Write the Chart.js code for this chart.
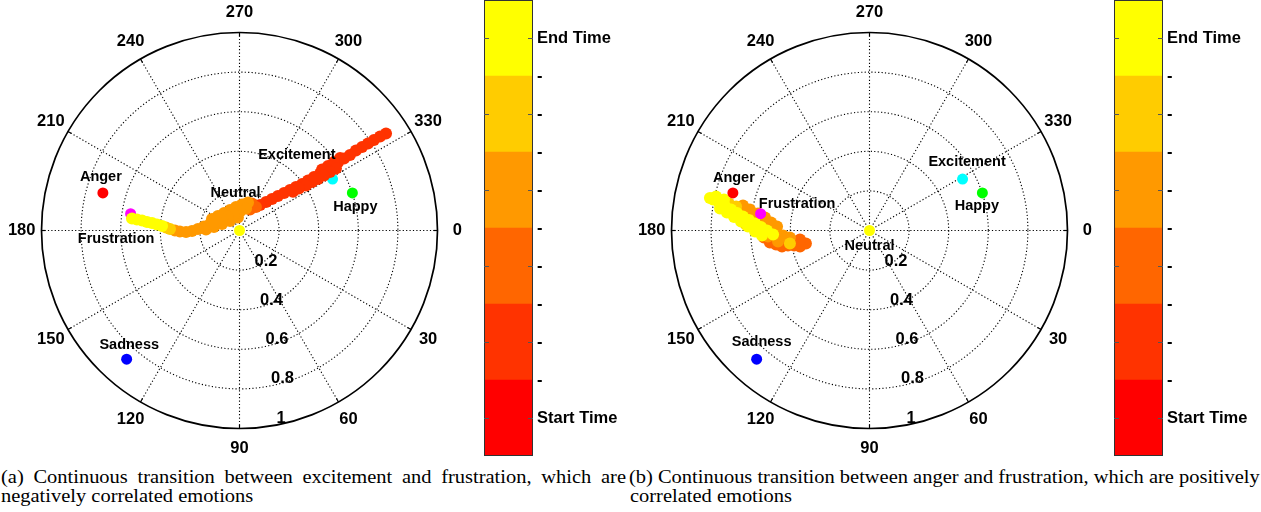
<!DOCTYPE html>
<html><head><meta charset="utf-8">
<script src="https://cdn.jsdelivr.net/npm/chart.js@4.4.0/dist/chart.umd.min.js"></script>
<style>
html,body{margin:0;padding:0;background:#fff;}
body{width:1261px;height:512px;position:relative;overflow:hidden;}
canvas{position:absolute;top:0;}
.cap{position:absolute;display:inline-block;font-family:"Liberation Serif","Times New Roman",serif;font-size:19px;line-height:19px;white-space:nowrap;color:#000;transform-origin:0 0;}
</style></head><body>
<canvas id="polarA" style="left:0px" width="480" height="460"></canvas>
<canvas id="barA" style="left:470px" width="160" height="460"></canvas>
<canvas id="polarB" style="left:630px" width="480" height="460"></canvas>
<canvas id="barB" style="left:1100px" width="160" height="460"></canvas>
<div id="capA1" class="cap" style="left:1px;top:467px">(a) Continuous transition between excitement and frustration, which are</div>
<div id="capA2" class="cap" style="left:1px;top:486px">negatively correlated emotions</div>
<div id="capB1" class="cap" style="left:629px;top:467px">(b) Continuous transition between anger and frustration, which are positively</div>
<div id="capB2" class="cap" style="left:630px;top:486px">correlated emotions</div>
<script>
// ---------------- data ----------------
const angleTicks = [0, 30, 60, 90, 120, 150, 180, 210, 240, 270, 300, 330];
const radiusTicks = [0.2, 0.4, 0.6, 0.8, 1];
const emotionNames = ['Anger', 'Frustration', 'Neutral', 'Excitement', 'Happy', 'Sadness'];
const emotionValence = [-0.69, -0.55, 0.00, 0.47, 0.57, -0.57];
const emotionArousal = [0.19, 0.085, 0.00, 0.26, 0.19, -0.65];
const colorbarBands = [1, 1, 1, 1, 1, 1];
const colorbarTicks = [0.5, 1, 1.5, 2, 2.5, 3, 3.5, 4, 4.5, 5, 5.5];
const colorbarLabels = ['Start Time', '-', '-', '-', '-', '-', '-', '-', '-', '-', 'End Time'];

// (a) excitement -> frustration trajectory (time band 0 = start ... 5 = end)
const trajA_valence = [0.740,0.710,0.679,0.649,0.619,0.588,0.558,0.528,0.497,0.467,0.437,0.407,0.376,0.346,0.316,0.285,0.255,0.225,0.194,0.164,0.134,0.104,
  0.508,0.477,0.447,0.417,0.487,0.457,0.427,0.396,0.366,0.336,0.300,0.270,
  0.083,0.063,0.053,
  0.043,0.013,-0.018,-0.048,-0.078,-0.109,-0.139,
  -0.008,-0.048,-0.088,-0.129,-0.169,
  0.033,0.003,-0.028,-0.058,-0.088,-0.119,-0.149,-0.179,-0.210,-0.240,-0.270,-0.301,-0.326,
  -0.351,-0.371,
  -0.391,-0.417,-0.442,-0.467,-0.492,-0.518,-0.543];
const trajA_arousal = [0.490,0.475,0.457,0.439,0.422,0.404,0.381,0.364,0.343,0.323,0.303,0.288,0.270,0.253,0.235,0.220,0.205,0.189,0.174,0.159,0.144,0.129,
  0.366,0.346,0.326,0.308,0.313,0.295,0.278,0.260,0.245,0.227,0.212,0.196,
  0.119,0.136,0.106,
  0.141,0.131,0.119,0.104,0.088,0.073,0.058,
  0.066,0.048,0.033,0.018,0.005,
  0.111,0.096,0.083,0.071,0.058,0.045,0.033,0.020,0.008,-0.003,-0.008,-0.005,0.000,
  0.008,0.015,
  0.023,0.030,0.038,0.043,0.051,0.056,0.061];
const trajA_band = [1,1,1,1,1,1,1,1,1,1,1,1,1,1,1,1,1,1,1,1,1,1,
  1,1,1,1,1,1,1,1,1,1,1,1,
  2,2,2,
  3,3,3,3,3,3,3,
  3,3,3,3,3,
  3,3,3,3,3,3,3,3,3,3,3,3,3,
  4,4,
  5,5,5,5,5,5,5];

// (b) anger <-> frustration trajectory
const trajB_valence = [-0.321,-0.351,-0.381,-0.412,-0.442,-0.351,-0.472,-0.503,-0.533,
  -0.402,-0.437,-0.467,-0.497,-0.528,-0.563,-0.604,-0.639,-0.462,-0.513,
  -0.674,-0.710,-0.573,-0.624,-0.402,
  -0.755,-0.720,-0.684,-0.649,-0.614,-0.578,-0.543,
  -0.775,-0.735,
  -0.806,-0.790,-0.760,-0.730,-0.699,-0.669,-0.639,-0.609,-0.578,-0.548,-0.518,-0.487];
const trajB_arousal = [-0.066,-0.081,-0.076,-0.076,-0.081,-0.045,-0.071,-0.061,-0.035,
  -0.035,-0.025,0.020,0.040,0.066,0.086,0.106,0.126,-0.056,-0.030,
  0.121,0.136,0.005,0.030,-0.066,
  0.111,0.091,0.068,0.045,0.020,-0.005,-0.025,
  0.172,0.157,
  0.164,0.157,0.141,0.124,0.106,0.088,0.071,0.053,0.035,0.018,0.000,-0.020];
const trajB_band = [2,2,2,2,2,2,2,2,2,
  3,3,3,3,3,3,3,3,3,3,
  4,4,4,4,4,
  5,5,5,5,5,5,5,
  5,5,
  5,5,5,5,5,5,5,5,5,5,5,5];

// ---------------- styles ----------------
const bandColors = ['#FF0000', '#FF3300', '#FF6600', '#FF9900', '#FFCC00', '#FFFF00'];
const emotionColors = ['#FF0000', '#FF00FF', '#FFFF00', '#00FFFF', '#00FF00', '#0000FF'];
const labelOffsetsA = [[-2,-12],[-14.5,29],[-4,-33.5],[-35.7,-20.5],[3,18.5],[2.6,-10]];
const labelOffsetsB = [[1,-10.7],[36.5,-6],[0,19.5],[4.5,-12.7],[-5.5,17],[5,-13]];
const FONT = '"Liberation Sans", Arial, sans-serif';

function polarPoint(thetaDeg, r) { // theta measured clockwise on screen from the right
  const t = thetaDeg * Math.PI / 180;
  return {x: r * Math.cos(t), y: -r * Math.sin(t)};
}

const polarFrame = {
  id: 'polarFrame',
  beforeDatasetsDraw(chart) {
    const ctx = chart.ctx, xs = chart.scales.x, ys = chart.scales.y;
    const P = (th, r) => { const p = polarPoint(th, r); return [xs.getPixelForValue(p.x), ys.getPixelForValue(p.y)]; };
    const rMax = radiusTicks[radiusTicks.length - 1];
    const cx = xs.getPixelForValue(0), cy = ys.getPixelForValue(0);
    const R = xs.getPixelForValue(1) - cx, Ry = cy - ys.getPixelForValue(1);
    ctx.save();
    ctx.lineWidth = 1.1; ctx.strokeStyle = '#000'; ctx.setLineDash([1.2, 2.2]);
    radiusTicks.slice(0, -1).forEach(r => {
      ctx.beginPath(); ctx.ellipse(cx, cy, R * r, Ry * r, 0, 0, 2 * Math.PI); ctx.stroke();
    });
    angleTicks.forEach(th => {
      const [px, py] = P(th, rMax);
      ctx.beginPath(); ctx.moveTo(cx, cy); ctx.lineTo(px, py); ctx.stroke();
    });
    ctx.setLineDash([]);
    ctx.strokeStyle = '#000'; ctx.lineWidth = 1.7;
    ctx.beginPath(); ctx.ellipse(cx, cy, R * rMax, Ry * rMax, 0, 0, 2 * Math.PI); ctx.stroke();
    ctx.lineWidth = 1.2;
    angleTicks.forEach(th => {
      const [x1, y1] = P(th, rMax), [x2, y2] = P(th, rMax * 0.98);
      ctx.beginPath(); ctx.moveTo(x1, y1); ctx.lineTo(x2, y2); ctx.stroke();
    });
    ctx.restore();
  },
  afterDatasetsDraw(chart, args, opts) {
    const ctx = chart.ctx, xs = chart.scales.x, ys = chart.scales.y;
    const P = (th, r) => { const p = polarPoint(th, r); return [xs.getPixelForValue(p.x), ys.getPixelForValue(p.y)]; };
    ctx.save();
    ctx.fillStyle = '#000';
    ctx.font = 'bold 16.5px ' + FONT;
    ctx.textAlign = 'center'; ctx.textBaseline = 'middle';
    angleTicks.forEach(th => { const [px, py] = P(th, 1.1); ctx.fillText(String(th), px, py); });
    ctx.textAlign = 'left';
    radiusTicks.forEach(r => { const [px, py] = P(82, r); ctx.fillText(String(r), px + 9.5, py - 8.5); });
    ctx.font = 'bold 14.5px ' + FONT;
    ctx.textAlign = 'center'; ctx.textBaseline = 'alphabetic';
    emotionNames.forEach((name, i) => {
      const px = xs.getPixelForValue(emotionValence[i]), py = ys.getPixelForValue(emotionArousal[i]);
      const o = opts.labelOffsets[i];
      ctx.fillText(name, px + o[0], py + o[1]);
    });
    ctx.restore();
  }
};

function makePolar(id, val, aro, band, offsets, emotionsOnTop) {
  new Chart(document.getElementById(id), {
    type: 'scatter',
    data: {
      datasets: [
        {
          data: val.map((v, i) => ({x: v, y: aro[i]})),
          backgroundColor: band.map(b => bandColors[b]),
          pointRadius: 6, pointBorderWidth: 0, borderWidth: 0,
          order: emotionsOnTop ? 1 : 0
        },
        {
          data: emotionValence.map((v, i) => ({x: v, y: emotionArousal[i]})),
          backgroundColor: emotionColors,
          pointRadius: 5.5, pointBorderWidth: 0, borderWidth: 0,
          order: emotionsOnTop ? 0 : 1
        }
      ]
    },
    options: {
      responsive: false, animation: false, devicePixelRatio: 1, events: [],
      layout: {padding: {left: 41.5, right: 42.5, top: 32.5, bottom: 31.5}},
      plugins: {legend: {display: false}, tooltip: {enabled: false}, polarFrame: {labelOffsets: offsets}},
      scales: {
        x: {type: 'linear', min: -1, max: 1, display: false},
        y: {type: 'linear', min: -1, max: 1, display: false}
      }
    },
    plugins: [polarFrame]
  });
}

const barFrame = {
  id: 'barFrame',
  afterDatasetsDraw(chart) {
    const ctx = chart.ctx, a = chart.chartArea, ys = chart.scales.y;
    ctx.save();
    ctx.strokeStyle = '#333'; ctx.lineWidth = 1;
    ctx.strokeRect(a.left + 0.5, a.top + 0.5, a.right - a.left - 1, a.bottom - a.top - 1);
    ctx.strokeStyle = '#555';
    colorbarTicks.forEach(v => {
      if (Math.abs((v % 1) - 0.5) < 1e-6) {
        const py = Math.round(ys.getPixelForValue(v)) + 0.5;
        ctx.beginPath();
        ctx.moveTo(a.left, py); ctx.lineTo(a.left + 5, py);
        ctx.moveTo(a.right, py); ctx.lineTo(a.right - 5, py);
        ctx.stroke();
      }
    });
    ctx.restore();
  }
};

function makeBar(id) {
  new Chart(document.getElementById(id), {
    type: 'bar',
    data: {
      labels: [''],
      datasets: colorbarBands.map((v, i) => ({
        data: [v], backgroundColor: bandColors[i], borderWidth: 0,
        barPercentage: 1, categoryPercentage: 1
      }))
    },
    options: {
      responsive: false, animation: false, devicePixelRatio: 1, events: [],
      layout: {padding: {left: 14, right: 0, top: 0, bottom: 4}},
      plugins: {legend: {display: false}, tooltip: {enabled: false}},
      scales: {
        x: {display: false, stacked: true},
        y: {
          stacked: true, position: 'right', min: 0, max: 6,
          afterBuildTicks: s => { s.ticks = colorbarTicks.map(v => ({value: v})); },
          afterFit: s => { s.width = 97; s.paddingTop = 0; s.paddingBottom = 0; },
          grid: {display: false, drawTicks: false},
          border: {display: false},
          ticks: {
            autoSkip: false, padding: 4, color: '#000',
            font: {family: FONT, weight: 'bold', size: 16.5},
            callback: (v, i) => colorbarLabels[i]
          }
        }
      }
    },
    plugins: [barFrame]
  });
}

makePolar('polarA', trajA_valence, trajA_arousal, trajA_band, labelOffsetsA, false);
makePolar('polarB', trajB_valence, trajB_arousal, trajB_band, labelOffsetsB, true);
makeBar('barA');
makeBar('barB');

// captions: stretch horizontally like the reference
(function () {
  const b1 = document.getElementById('capB1');
  const s = 631 / b1.offsetWidth;
  const a1 = document.getElementById('capA1');
  a1.style.whiteSpace = 'normal';
  a1.style.width = (625 / s) + 'px';
  a1.style.textAlign = 'justify';
  a1.style.textAlignLast = 'justify';
  ['capA1', 'capA2', 'capB1', 'capB2'].forEach(id => {
    document.getElementById(id).style.transform = 'scaleX(' + s + ')';
  });
})();
</script>
</body></html>
